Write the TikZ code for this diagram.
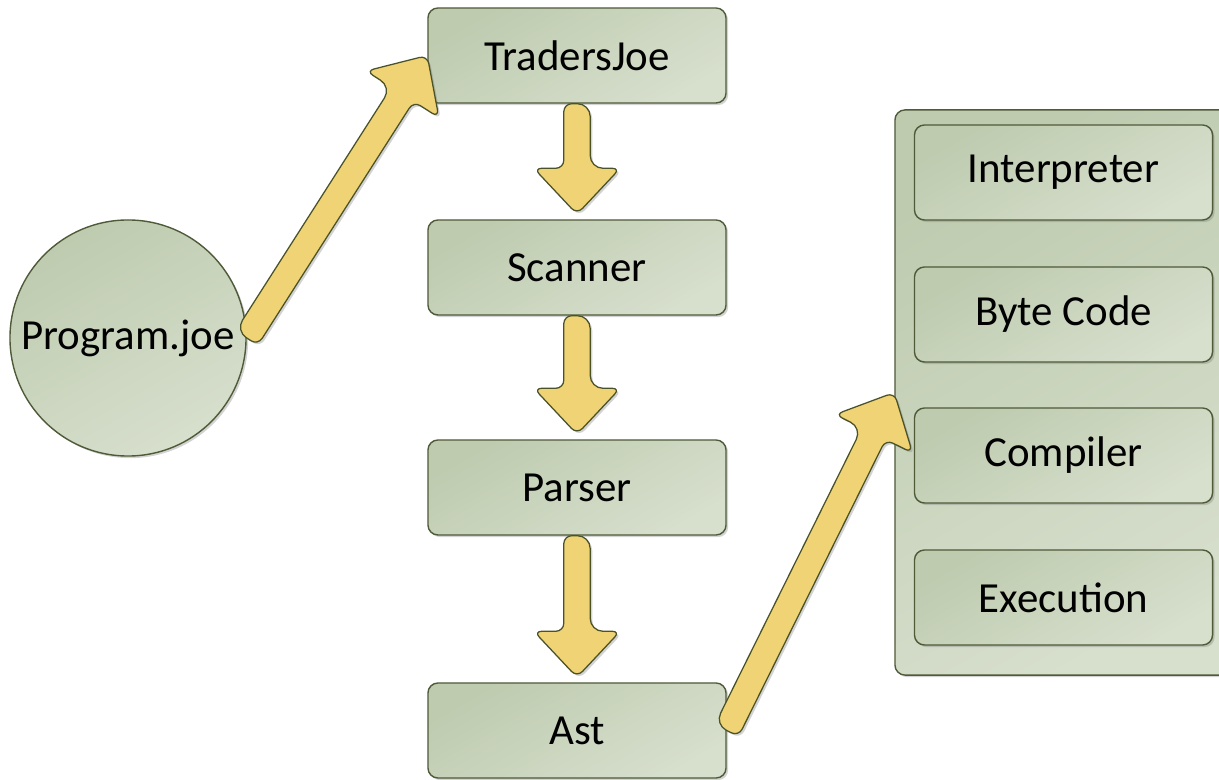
\documentclass[tikz,border=0pt]{standalone}
\usepackage{fontspec}
\setmainfont{Carlito}
\usepackage{tikz}
\usetikzlibrary{calc,shadows,positioning}
\definecolor{boxdark}{RGB}{190,203,175}
\definecolor{boxlight}{RGB}{215,223,205}
\definecolor{boxline}{RGB}{78,90,56}
\definecolor{arrowfill}{RGB}{240,211,116}
\definecolor{arrowline}{RGB}{74,82,42}

\tikzset{
  softshadow/.style={drop shadow={shadow xshift=1.5pt,shadow yshift=-1.5pt,opacity=0.35}},
  stagebox/.style={draw=boxline,line width=1pt,rounded corners=0.25cm,
    top color=boxdark,bottom color=boxlight,shading angle=30,
    minimum width=7.45cm,minimum height=2.375cm,inner sep=0pt,
    font=\fontsize{30.5}{36}\selectfont,softshadow},
  fatarrow/.style={draw=arrowline,fill=arrowfill,line width=0.9pt,softshadow,
    to path={
      [rounded corners=0.32cm] ($(\tikztostart)!0.33cm!90:(\tikztotarget)$)
      -- ($(\tikztotarget)!1.15cm!(\tikztostart)!0.33cm!-90:(\tikztostart)$)
      [rounded corners=0.2cm]
      -- ($(\tikztotarget)!1.15cm!(\tikztostart)!1.08cm!-90:(\tikztostart)$)
      -- (\tikztotarget)
      -- ($(\tikztotarget)!1.15cm!(\tikztostart)!1.08cm!90:(\tikztostart)$)
      -- ($(\tikztotarget)!1.15cm!(\tikztostart)!0.33cm!90:(\tikztostart)$)
      -- ($(\tikztostart)!0.33cm!-90:(\tikztotarget)$)
      [rounded corners=0.32cm] -- cycle}}
}

\begin{document}
\begin{tikzpicture}[x=0.025cm,y=-0.025cm]
  \clip (0,0) rectangle (1219,780);

  \node[stagebox] (tj) at (577,55.5) {TradersJoe};
  \node[stagebox] (scan) at (577,267.5) {Scanner};
  \node[stagebox] (parse) at (577,487.5) {Parser};
  \node[stagebox] (ast) at (577,730.5) {Ast};
  \node[stagebox,circle,minimum size=5.9cm] (prog) at (128,338) {Program.joe};

  \node[stagebox,minimum width=8.625cm,minimum height=14.125cm] (panel) at (1067.5,392.5) {};
  \node[stagebox] (interp) at (1063.5,172.5) {Interpreter};
  \node[stagebox] (bytecode) at (1063.5,314.5) {Byte Code};
  \node[stagebox] (compiler) at (1063.5,455.5) {Compiler};
  \node[stagebox] (exec) at (1063.5,597.5) {Execution};

  \coordinate (scanin) at ($(scan.north)+(0,-5)$);
  \coordinate (parsein) at ($(parse.north)+(0,-5)$);
  \coordinate (astin) at ($(ast.north)+(0,-5)$);

  \path[fatarrow] (prog.east) to (tj.west);
  \path[fatarrow] (tj.south) to (scanin);
  \path[fatarrow] (scan.south) to (parsein);
  \path[fatarrow] (parse.south) to (astin);
  \path[fatarrow] (ast.east) to (panel.west);
\end{tikzpicture}
\end{document}
